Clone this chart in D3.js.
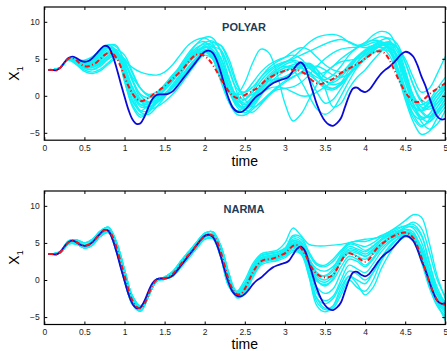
<!DOCTYPE html>
<html><head><meta charset="utf-8">
<script src="https://cdn.jsdelivr.net/npm/d3@7"></script>
<style>body{margin:0;background:#fff}svg{display:block}</style>
</head><body><svg id="c" width="447" height="351"></svg>
<script>
const timeFine=[0.05,0.1,0.15,0.2,0.25,0.3,0.35,0.4,0.45,0.5,0.55,0.6,0.65,0.7,0.75,0.8,0.85,0.9,0.95,1,
1.05,1.1,1.15,1.2,1.25,1.3,1.35,1.4,1.45,1.5,1.55,1.6,1.65,1.7,1.75,1.8,1.85,1.9,1.95,2,
2.05,2.1,2.15,2.2,2.25,2.3,2.35,2.4,2.45,2.5,2.55,2.6,2.65,2.7,2.75,2.8,2.85,2.9,2.95,3,
3.05,3.1,3.15,3.2,3.25,3.3,3.35,3.4,3.45,3.5,3.55,3.6,3.65,3.7,3.75,3.8,3.85,3.9,3.95,4,
4.05,4.1,4.15,4.2,4.25,4.3,4.35,4.4,4.45,4.5,4.55,4.6,4.65,4.7,4.75,4.8,4.85,4.9,4.95,5];
const timeCoarse=[0.05,0.1,0.2,0.3,0.4,0.5,0.6,0.7,0.8,0.9,1,1.1,1.2,1.3,1.4,1.5,1.6,1.7,1.8,1.9,
2,2.1,2.2,2.3,2.4,2.5,2.6,2.7,2.8,2.9,3,3.1,3.2,3.3,3.4,3.5,3.6,3.7,3.8,3.9,
4,4.1,4.2,4.3,4.4,4.5,4.6,4.7,4.8,4.9,5];
const xTicks=[0,0.5,1,1.5,2,2.5,3,3.5,4,4.5,5];
const xTickLabels=["0","0.5","1","1.5","2","2.5","3","3.5","4","4.5","5"];
const yTicks=[-5,0,5,10];
const yTickLabels=["\u22125","0","5","10"];
const panelTitles=["POLYAR","NARMA"];

const trueX1=[3.5,3.5,3.45,3.8,4.5,5.1,5.3,5.1,4.75,4.6,4.7,5.1,5.7,6.3,6.75,6.6,5.5,3.8,1.8,-0.1,
-1.9,-3.2,-3.8,-3.7,-2.8,-1.5,-0.4,0.1,0.2,0.2,0.3,0.6,1.2,1.9,2.6,3.3,4.0,4.7,5.4,5.95,
6.1,5.8,4.8,3.2,1.3,-0.4,-1.6,-2.1,-2.2,-1.9,-1.3,-0.6,-0.05,0.3,0.8,1.3,1.7,1.95,2.15,2.3,
2.6,3.4,4.2,4.5,3.9,2.3,0.5,-1.2,-2.5,-3.4,-3.9,-4.05,-3.7,-3.0,-1.5,0.0,1.0,1.1,0.7,0.5,
0.8,1.5,2.3,3.0,3.5,3.9,4.4,5.0,5.6,5.95,5.8,5.3,4.2,2.7,1.4,-0.2,-1.7,-2.8,-3.2,-3.1];

const polyarMean=[3.5,3.5,3.45,3.8,4.5,5.0,5.1,4.8,4.3,4.0,4.0,4.2,4.5,5.0,5.5,5.8,5.7,5.1,4.0,2.6,
1.3,0.3,-0.4,-0.7,-0.6,-0.3,0.1,0.5,0.9,1.3,1.8,2.3,2.8,3.3,3.9,4.6,5.2,5.55,5.6,5.35,
4.9,4.2,3.3,2.3,1.4,0.6,0.0,-0.3,-0.2,0.1,0.4,0.7,1.0,1.5,2.0,2.4,2.7,3.0,3.2,3.4,
3.5,3.5,3.5,3.3,3.0,2.5,2.0,1.7,1.6,1.8,2.0,2.3,2.7,3.1,3.4,3.7,4.0,4.3,4.6,5.0,
5.4,5.8,6.0,6.0,5.7,4.9,3.8,2.6,1.5,0.5,-0.2,-0.7,-0.85,-0.7,-0.3,0.2,0.6,1.0,1.35,1.7];

const narmaMean=[3.5,3.5,3.45,3.75,4.45,5.05,5.3,5.1,4.8,4.65,4.75,5.1,5.65,6.25,6.7,6.7,5.9,4.4,2.5,0.6,
-1.3,-2.8,-3.6,-3.8,-3.2,-1.9,-0.7,0.0,0.2,0.25,0.4,0.8,1.4,2.1,2.8,3.4,4.0,4.7,5.4,5.9,
6.1,6.0,5.3,3.8,1.9,0.0,-1.3,-1.9,-1.9,-1.2,-0.1,1.0,1.9,2.5,2.75,2.8,2.9,3.1,3.35,3.6,
4.1,4.6,4.7,4.3,3.5,2.4,1.4,0.8,0.45,0.35,0.4,0.7,1.5,2.5,3.3,3.6,3.45,3.1,2.7,2.45,
2.8,3.6,4.3,4.8,5.2,5.6,5.9,6.15,6.35,6.4,6.2,5.7,4.6,3.1,1.4,-0.3,-1.7,-2.7,-3.2,-3.3];

const polyarSims=[
[3.5,3.5,3.8,5.0,4.9,4.8,5.3,6.2,6.9,6.6, 4.9,3.8,3.2,2.9,2.8,3.2,4.2,5.6,6.9,7.6, 7.8,7.0,4.5,1.5,0.2,0.5,1.8,3.2,4.2,4.8, 5.2,5.5,5.0,3.8,3.0,3.2,4.0,5.0,5.8,6.5, 7.0,7.6,8.0,7.6,5.0,1.0,-1.5,-2.0,-1.0,0.5, 1.8],
[3.5,3.5,3.8,5.0,4.7,4.2,4.3,5.0,5.8,5.5, 2.0,-1.2,-2.6,-2.2,-1.0,0.0,1.2,2.8,4.5,5.6, 5.9,5.0,2.5,-0.5,-2.0,-1.5,-0.2,1.2,2.0,2.3, 2.6,3.2,4.0,4.2,3.0,1.5,1.0,1.8,3.5,5.0, 6.0,6.5,6.6,6.0,3.5,0.0,-2.5,-3.2,-2.5,-0.5, 1.0],
[3.5,3.5,3.8,4.9,4.5,3.9,3.8,4.4,5.4,5.6, 3.8,1.0,-0.8,-0.9,-0.2,0.8,2.0,3.4,4.8,5.8, 6.0,5.3,3.0,0.5,0.2,1.8,4.5,6.3,5.8,3.0, -1.0,-3.4,-2.5,-0.5,1.5,3.0,4.0,4.6,4.8,5.0, 5.5,6.2,6.8,6.5,4.0,0.5,-1.5,-1.8,-0.8,0.5, 1.5],
[3.5,3.5,3.8,4.9,4.3,3.5,3.2,3.6,4.5,5.3, 4.5,2.0,-0.5,-1.8,-1.5,-0.8,0.2,1.5,3.0,4.5, 5.8,6.5,6.2,3.8,0.5,-1.8,-2.2,-1.2,0.2,1.2, 2.0,2.6,3.0,2.8,2.0,1.2,1.0,1.6,2.8,4.0, 5.0,5.8,6.3,6.5,5.5,3.0,0.0,-2.0,-2.8,-2.2, -1.0],
[3.5,3.5,3.8,5.0,4.8,4.4,4.6,5.6,6.5,6.2, 3.5,0.0,-2.0,-2.0,-0.8,0.3,1.2,2.3,3.6,5.0, 6.0,6.0,4.0,0.8,-1.5,-2.3,-1.5,0.0,1.5,2.2, 2.5,3.0,3.8,4.4,3.5,1.0,-1.5,-1.0,1.0,2.5, 3.5,4.8,6.0,7.0,6.5,3.5,0.0,-2.2,-3.0,-2.0, -0.5],
[3.5,3.5,3.8,5.0,4.6,4.0,4.0,4.6,5.5,5.8, 4.5,2.0,0.2,-0.3,0.2,1.2,2.5,4.0,5.5,6.5, 7.0,6.8,5.0,2.0,0.0,-0.5,0.5,2.0,3.2,4.0, 4.5,5.0,5.5,6.0,6.5,7.0,7.4,7.6,7.3,6.8, 6.5,6.8,7.2,7.0,5.5,2.5,-0.5,-2.0,-1.5,0.0, 1.2],
[3.5,3.5,3.8,5.0,4.8,4.5,4.8,5.8,6.8,6.8, 4.2,1.0,-0.8,-1.2,-0.5,0.8,2.2,3.8,5.5,7.0, 7.9,7.8,6.0,2.5,-0.2,-1.0,0.0,1.5,2.8,3.8, 4.5,5.2,6.2,7.2,7.9,8.2,8.3,8.0,7.2,6.8, 7.2,8.2,8.7,8.4,6.5,3.0,0.0,-1.2,-0.5,1.0, 2.5],
[3.5,3.5,3.8,4.9,4.4,3.7,3.5,4.0,5.0,5.5, 3.0,0.2,-1.5,-1.5,-0.8,0.2,1.5,3.0,4.5,5.5, 6.2,5.5,3.2,0.8,-1.0,-1.5,-0.5,1.0,2.5,3.5, 4.0,3.5,2.0,0.0,-1.8,-2.5,-1.8,0.0,2.0,3.8, 5.0,6.0,6.8,7.2,6.0,2.8,-1.0,-3.5,-4.5,-3.8, -2.0],
[3.5,3.5,3.8,5.0,4.7,4.1,4.1,4.8,5.8,6.0, 4.0,1.2,-0.5,-0.8,-0.2,0.8,2.0,3.4,4.8,5.8, 6.5,6.2,4.5,1.5,-0.8,-1.8,-1.2,0.2,1.6,2.6, 3.3,3.8,4.2,4.0,3.0,2.0,1.8,2.5,3.8,5.0, 6.0,6.5,6.5,5.5,3.0,-0.5,-3.5,-5.2,-4.8,-3.0, -1.5],
[3.5,3.5,3.8,5.0,4.7,4.3,4.5,5.4,6.2,5.6, 2.5,-0.8,-2.0,-1.2,0.2,1.5,2.8,4.0,5.3,6.2, 6.3,5.0,2.0,-0.8,-2.2,-2.0,-0.8,0.8,2.2,3.2, 3.8,4.2,4.5,4.3,3.5,2.5,2.2,2.8,4.0,5.2, 6.0,6.8,7.5,7.8,7.0,4.5,1.5,-0.5,-1.0,0.0, 1.5],
[3.5,3.5,3.8,4.8,4.2,3.3,3.0,3.4,4.3,5.0, 4.2,2.5,1.0,0.0,-0.2,0.3,1.2,2.5,3.8,5.0, 6.0,6.8,6.8,5.0,1.8,-0.5,-1.5,-1.0,0.0,1.0, 1.8,2.5,3.2,3.8,4.0,3.5,2.8,2.5,3.0,4.0, 5.0,5.8,6.2,6.0,4.8,2.5,0.0,-1.5,-1.8,-1.0, 0.2],
[3.5,3.5,3.8,5.0,4.6,4.0,3.9,4.3,5.0,5.5, 5.0,3.0,1.0,0.2,0.5,1.5,2.8,4.0,5.0,6.0, 6.8,7.2,6.8,4.5,1.5,0.0,0.2,1.2,2.3,3.2, 3.8,4.0,3.8,3.2,2.5,2.2,2.8,4.0,5.5,6.5, 7.2,7.5,7.3,6.2,3.8,0.8,-1.8,-3.0,-2.5,-1.0, 0.5],
[3.5,3.5,3.8,5.0,4.8,4.5,4.8,5.8,6.5,5.8, 2.8,-0.5,-2.2,-2.5,-1.5,-0.2,1.0,2.2,3.5,4.8, 5.5,5.0,2.5,-0.8,-2.5,-2.6,-1.8,-0.8,0.2,0.8, 1.0,1.2,1.8,2.8,4.0,5.0,5.8,6.3,6.5,6.6, 6.8,7.2,7.3,6.5,4.0,0.5,-2.5,-4.0,-3.5,-2.0, -0.5],
[3.5,3.5,3.8,5.0,4.7,4.2,4.2,4.9,5.8,6.2, 5.5,3.2,1.0,0.0,0.0,0.8,2.0,3.5,5.0,6.3, 7.2,7.4,6.2,3.5,1.0,0.5,1.2,2.5,3.5,4.2, 4.6,4.8,4.5,3.8,2.8,2.0,1.5,1.8,2.8,4.0, 5.2,6.2,6.8,7.0,6.5,5.0,2.5,0.5,1.0,3.0, 5.3],
[3.5,3.5,3.8,4.9,4.5,3.8,3.6,4.2,5.2,5.6, 3.5,0.5,-1.2,-1.5,-1.0,0.0,1.0,2.5,4.0,5.2, 6.0,5.8,3.8,0.8,-1.2,-1.5,-0.8,0.2,1.0,1.2, 1.0,0.5,0.0,0.0,0.5,1.2,2.0,3.0,4.2,5.3, 6.2,6.8,7.0,6.2,3.5,0.0,-3.0,-4.2,-3.2,-1.5, 0.0],
[3.5,3.5,3.8,5.0,4.9,4.6,5.0,6.0,6.8,6.0, 2.0,-1.5,-2.9,-2.0,-0.5,1.0,2.5,4.2,5.8,7.0, 7.3,6.0,3.0,0.5,-0.8,-0.5,0.8,2.5,3.8,4.6, 5.2,6.0,6.5,6.2,5.2,4.2,3.5,3.2,3.5,4.2, 5.2,6.2,7.0,7.3,6.5,4.5,1.5,-0.8,-1.5,-0.5, 1.0],
[3.5,3.5,3.8,4.9,4.5,3.9,3.9,4.5,5.4,5.8, 4.8,2.2,0.0,-0.8,-0.6,0.2,1.5,3.0,4.6,5.8, 6.6,6.6,5.2,2.2,-0.5,-1.2,-0.5,1.0,2.5,3.5, 4.2,4.6,4.0,2.5,0.5,-1.0,-0.5,1.0,2.8,4.5, 5.8,6.6,7.0,6.8,5.2,2.0,-1.0,-2.8,-2.8,-1.5, 0.0],
[3.5,3.5,3.8,5.0,4.8,4.3,4.4,5.2,6.0,5.9, 3.2,0.3,-1.2,-1.0,0.0,1.2,2.5,3.8,5.0,6.0, 6.6,6.2,4.0,1.0,-1.2,-1.8,-1.0,0.5,2.0,3.0, 3.5,3.8,3.8,3.2,2.0,1.0,0.8,1.5,3.0,4.5, 5.6,6.4,6.8,6.6,5.0,1.8,-1.2,-3.0,-3.5,-2.5, -1.0]
];

const narmaSims=[
[3.5,3.5,3.85,5.25,5.4,5.0,5.5,6.6,7.1,5.1, 1.4,-2.2,-3.5,-2.0,-0.2,0.4,1.1,2.5,3.8,5.1, 6.3,6.5,4.6,0.9,-1.5,0.0,2.2,3.5,3.8,4.0, 5.0,7.0,6.0,4.8,4.6,4.6,4.7,4.8,5.0,5.3, 5.5,5.6,5.8,6.0,6.3,6.8,6.5,4.0,0.5,-2.0, -3.0],
[3.5,3.5,3.65,4.85,4.85,4.3,4.7,5.9,6.4,3.8, -0.1,-3.3,-4.2,-2.2,-0.1,0.1,0.5,1.7,3.0,4.3, 5.5,5.6,3.1,-0.8,-2.2,-1.5,0.8,2.3,2.7,3.0, 3.6,4.8,4.2,0.5,-3.5,-4.3,-3.5,-1.0,0.5,0.0, -0.5,1.0,3.0,4.5,5.5,6.0,5.5,3.0,-0.5,-3.0, -4.0],
[3.5,3.5,3.75,5.05,5.15,4.7,5.2,6.35,6.8,4.6, 0.8,-2.6,-3.75,-1.8,0.1,0.35,0.9,2.2,3.5,4.8, 6.0,6.15,4.0,0.3,-1.8,-0.8,1.5,3.0,3.3,3.5, 4.0,5.5,5.2,2.5,0.0,-0.8,0.2,2.8,4.2,4.0, 3.5,4.2,5.3,6.0,6.4,6.5,5.8,3.2,-0.2,-2.8, -3.8],
[3.5,3.5,3.75,5.0,5.05,4.6,5.0,6.2,6.65,4.3, 0.5,-2.9,-3.9,-2.0,-0.05,0.2,0.75,2.0,3.3,4.6, 5.8,5.9,3.6,-0.2,-1.6,-0.5,1.8,3.2,3.5,3.7, 4.2,5.8,5.5,3.5,2.0,1.8,2.5,3.8,5.0,5.2, 5.2,5.5,6.0,6.5,7.2,8.0,8.8,8.5,5.0,0.5, -2.5],
[3.5,3.5,3.85,5.25,5.4,5.0,5.5,6.6,7.1,5.1, 1.4,-2.2,-3.5,-2.0,-0.2,0.4,1.1,2.5,3.8,5.1, 6.3,6.5,4.6,0.9,-2.3,-1.8,0.5,2.2,2.6,2.8, 3.2,4.2,3.8,1.0,-2.5,-3.8,-3.5,-1.5,0.5,-0.5, -2.0,-1.0,1.5,3.5,5.0,5.8,5.5,3.5,0.0,-3.0, -4.5],
[3.5,3.5,3.65,4.85,4.85,4.3,4.7,5.9,6.4,3.8, -0.1,-3.3,-4.2,-2.2,-0.1,0.1,0.5,1.7,3.0,4.3, 5.5,5.6,3.1,-0.8,-2.0,-1.2,1.2,2.7,3.0,3.2, 3.8,5.0,4.8,2.8,1.5,1.2,1.8,3.2,4.5,4.2, 3.8,4.5,5.5,6.2,6.6,6.8,6.2,3.8,0.5,-2.5, -3.5],
[3.5,3.5,3.75,5.05,5.15,4.7,5.2,6.35,6.8,4.6, 0.8,-2.6,-3.75,-1.8,0.1,0.35,0.9,2.2,3.5,4.8, 6.0,6.15,4.0,0.3,-2.1,-1.4,1.0,2.5,2.8,3.0, 3.5,4.5,4.2,1.5,-1.0,-1.8,-1.2,1.0,2.8,2.5, 1.8,2.8,4.2,5.2,5.8,6.0,5.2,2.5,-1.0,-3.5, -4.8],
[3.5,3.5,3.75,5.0,5.05,4.6,5.0,6.2,6.65,4.3, 0.5,-2.9,-3.9,-2.0,-0.05,0.2,0.75,2.0,3.3,4.6, 5.8,5.9,3.6,-0.2,-1.7,-0.6,1.6,3.0,3.2,3.4, 3.9,5.2,5.0,3.0,1.0,0.5,1.2,3.0,4.0,3.8, 3.2,4.0,5.0,5.8,6.4,7.0,7.2,6.0,2.5,-1.5, -3.5],
[3.5,3.5,3.85,5.25,5.4,5.0,5.5,6.6,7.1,5.1, 1.4,-2.2,-3.5,-2.0,-0.2,0.4,1.1,2.5,3.8,5.1, 6.3,6.5,4.6,0.9,-2.4,-1.9,0.3,2.0,2.4,2.6, 3.0,3.8,3.5,0.5,-3.0,-4.0,-3.8,-2.0,0.0,-1.0, -1.5,0.0,2.5,4.2,5.5,6.2,6.0,4.0,0.5,-3.0, -5.5],
[3.5,3.5,3.65,4.85,4.85,4.3,4.7,5.9,6.4,3.8, -0.1,-3.3,-4.2,-2.2,-0.1,0.1,0.5,1.7,3.0,4.3, 5.5,5.6,3.1,-0.8,-1.9,-1.0,1.3,2.8,3.1,3.3, 3.7,4.6,4.4,2.2,0.2,-0.3,0.5,2.5,3.8,3.6, 3.2,3.8,4.8,5.6,6.2,6.5,6.2,4.5,1.5,-1.5, -3.0],
[3.5,3.5,3.75,5.05,5.15,4.7,5.2,6.35,6.8,4.6, 0.8,-2.6,-3.75,-1.8,0.1,0.35,0.9,2.2,3.5,4.8, 6.0,6.15,4.0,0.3,-2.0,-1.3,1.1,2.6,2.9,3.1, 3.6,4.9,4.6,2.0,-1.8,-2.8,-2.2,0.0,2.0,1.5, 1.0,2.2,3.8,5.0,5.8,6.3,6.0,3.8,0.2,-2.8, -4.2],
[3.5,3.5,3.75,5.0,5.05,4.6,5.0,6.2,6.65,4.3, 0.5,-2.9,-3.9,-2.0,-0.05,0.2,0.75,2.0,3.3,4.6, 5.8,5.9,3.6,-0.2,-1.6,-0.4,1.9,3.3,3.6,3.8, 4.3,6.0,5.8,3.8,2.2,2.0,2.8,4.0,5.0,4.8, 4.5,5.0,5.8,6.5,7.0,7.3,7.0,5.2,1.5,-2.0, -4.0],
[3.5,3.5,3.85,5.25,5.4,5.0,5.5,6.6,7.1,5.1, 1.4,-2.2,-3.5,-2.0,-0.2,0.4,1.1,2.5,3.8,5.1, 6.3,6.5,4.6,0.9,-2.2,-1.6,0.7,2.4,2.7,2.9, 3.3,4.0,3.6,0.8,-2.5,-3.2,-2.5,-0.5,1.2,0.8, 0.0,1.0,2.8,4.5,5.5,6.0,5.8,4.2,1.0,-2.0, -3.8],
[3.5,3.5,3.65,4.85,4.85,4.3,4.7,5.9,6.4,3.8, -0.1,-3.3,-4.2,-2.2,-0.1,0.1,0.5,1.7,3.0,4.3, 5.5,5.6,3.1,-0.8,-1.8,-0.9,1.4,2.9,3.2,3.4, 3.9,5.3,5.0,2.8,0.5,0.0,0.8,2.6,3.6,3.2, 2.8,3.5,4.6,5.6,6.4,7.2,7.8,7.0,3.8,0.0, -2.2],
[3.5,3.5,3.75,5.05,5.15,4.7,5.2,6.35,6.8,4.6, 0.8,-2.6,-3.75,-1.8,0.1,0.35,0.9,2.2,3.5,4.8, 6.0,6.15,4.0,0.3,-2.1,-1.5,0.9,2.5,2.8,3.0, 3.4,4.4,4.0,1.8,-0.2,-0.6,0.0,1.8,3.2,2.8, 2.0,3.0,4.5,5.5,6.0,6.3,5.5,2.8,-0.8,-3.5, -5.0],
[3.5,3.5,3.75,5.0,5.05,4.6,5.0,6.2,6.65,4.3, 0.5,-2.9,-3.9,-2.0,-0.05,0.2,0.75,2.0,3.3,4.6, 5.8,5.9,3.6,-0.2,-1.9,-1.1,1.2,2.7,3.0,3.2, 3.7,4.7,4.5,2.6,0.8,0.6,1.5,3.5,4.8,4.6, 4.0,4.6,5.5,6.3,6.8,7.3,7.5,6.2,2.2,-1.0, -3.2]
];

const svg=d3.select("#c");
const FONT="'Liberation Sans', Arial, Helvetica, sans-serif";
const x=d3.scaleLinear().domain([0,5]).range([44.3,445.3]);
const panels=[
  {top:7,bottom:140.2,title:panelTitles[0],mean:polyarMean,sims:polyarSims,titleY:30.6,xlabY:166.3,ylabY:73.5},
  {top:191,bottom:324.5,title:panelTitles[1],mean:narmaMean,sims:narmaSims,titleY:213.3,xlabY:349.3,ylabY:257.5}
];

panels.forEach((p,pi)=>{
  const y=d3.scaleLinear().domain([-6,12]).range([p.bottom,p.top]);
  const g=svg.append("g");
  const clipId="clip"+pi;
  g.append("clipPath").attr("id",clipId).append("rect")
    .attr("x",x(0)).attr("y",p.top).attr("width",x(5)-x(0)).attr("height",p.bottom-p.top);
  const plot=g.append("g").attr("clip-path",`url(#${clipId})`);
  const lineC=d3.line().x((d,i)=>x(timeCoarse[i])).y(d=>y(d)).curve(d3.curveCatmullRom.alpha(0.5));
  const lineF=d3.line().x((d,i)=>x(timeFine[i])).y(d=>y(d)).curve(d3.curveCatmullRom.alpha(0.5));
  plot.selectAll("path.sim").data(p.sims).join("path").attr("class","sim")
    .attr("d",lineC).attr("fill","none").attr("stroke","#0ef2f6").attr("stroke-width",1.4);
  plot.append("path").attr("d",lineF(trueX1)).attr("fill","none")
    .attr("stroke","#0a0ad8").attr("stroke-width",1.8);
  plot.append("path").attr("d",lineF(p.mean)).attr("fill","none")
    .attr("stroke","#ff1010").attr("stroke-width",2).attr("stroke-dasharray","5,2.5,1,2.5");

  const ax=d3.axisBottom(x).tickValues(xTicks).tickFormat((d,i)=>xTickLabels[i]).tickSizeInner(-3).tickSizeOuter(0).tickPadding(4.5);
  const gx=g.append("g").attr("transform",`translate(0,${p.bottom})`).call(ax);
  const axT=d3.axisTop(x).tickValues(xTicks).tickFormat("").tickSizeInner(-3).tickSizeOuter(0);
  const gxt=g.append("g").attr("transform",`translate(0,${p.top})`).call(axT);
  const ay=d3.axisLeft(y).tickValues(yTicks).tickFormat((d,i)=>yTickLabels[i]).tickSizeInner(-3).tickSizeOuter(0).tickPadding(4.5);
  const gy=g.append("g").attr("transform",`translate(${x(0)},0)`).call(ay);
  const ayr=d3.axisRight(y).tickValues(yTicks).tickFormat("").tickSizeInner(-3).tickSizeOuter(0);
  const gyr=g.append("g").attr("transform",`translate(${x(5)},0)`).call(ayr);
  [gx,gxt,gy,gyr].forEach(a=>{
    a.select(".domain").remove();
    a.selectAll("line").attr("stroke","#000").attr("stroke-width",1);
    a.selectAll("text").attr("font-family",FONT).attr("font-size",8.5).attr("fill","#222");
  });
  g.append("rect").attr("x",x(0)).attr("y",p.top).attr("width",x(5)-x(0)).attr("height",p.bottom-p.top)
    .attr("fill","none").attr("stroke","#000").attr("stroke-width",1.2);

  g.append("text").attr("x",244).attr("y",p.titleY).attr("text-anchor","middle")
    .attr("font-family",FONT).attr("font-weight","bold").attr("font-size",11).attr("fill","#1d3c58").text(p.title);
  g.append("text").attr("x",(x(0)+x(5))/2).attr("y",p.xlabY).attr("text-anchor","middle")
    .attr("font-family",FONT).attr("font-size",14).attr("fill","#000").text("time");
  const yl=g.append("text").attr("transform",`translate(18.5,${p.ylabY}) rotate(-90)`).attr("text-anchor","middle")
    .attr("font-family",FONT).attr("fill","#000");
  yl.append("tspan").attr("font-size",14).text("X");
  yl.append("tspan").attr("font-size",9).attr("dy",4).text("1");
});
</script></body></html>
